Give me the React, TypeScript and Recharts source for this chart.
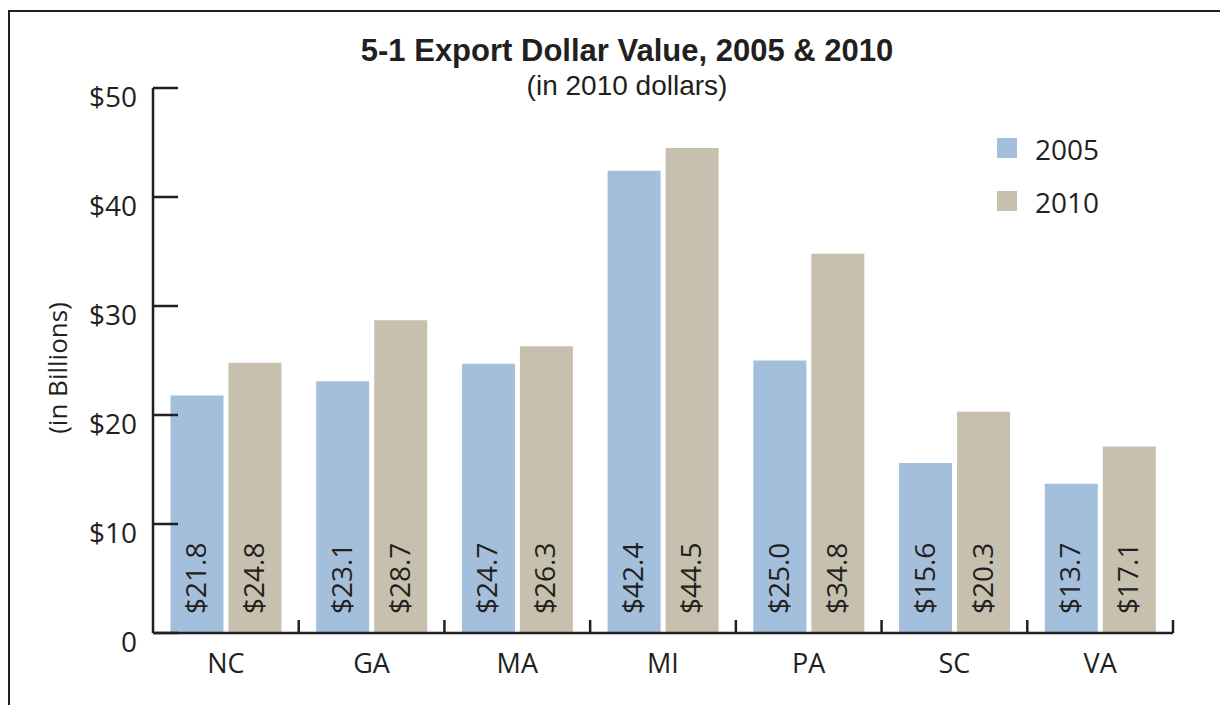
import React from 'react';
import { BarChart, Bar, XAxis, YAxis, LabelList } from 'recharts';

const states = ['NC', 'GA', 'MA', 'MI', 'PA', 'SC', 'VA'];
const exports2005 = [21.8, 23.1, 24.7, 42.4, 25.0, 15.6, 13.7];
const exports2010 = [24.8, 28.7, 26.3, 44.5, 34.8, 20.3, 17.1];
const yTicks = [0, 10, 20, 30, 40, 50];
const seriesNames = ['2005', '2010'];

const INK = '#231F20';
const BLUE = '#A3BFDC';
const TAN = '#C8C0AE';
const NUM_FONT = '"Open Sans", sans-serif';
const TITLE_FONT = '"Liberation Sans", Arial, sans-serif';

const W = 1220;
const H = 697;
const PLOT_LEFT = 145;
const PLOT_RIGHT = 1165;
const PLOT_BOTTOM = 625;
const BAND = (PLOT_RIGHT - PLOT_LEFT) / states.length;

const data = states.map((s, i) => ({ state: s, y2005: exports2005[i], y2010: exports2010[i] }));

const YTick = (props: any) => {
  const { x, y, payload } = props;
  const v = payload.value;
  return (
    <g>
      <line x1={x} x2={x + 25} y1={y} y2={y} stroke={INK} strokeWidth={2.5} />
      <text x={x - 16} y={y + 8} textAnchor="end" dominantBaseline="central"
        fontFamily={NUM_FONT} fontSize={28} fill={INK}>
        {v === 0 ? '0' : `$${v}`}
      </text>
    </g>
  );
};

const XTick = (props: any) => {
  const { x, y, payload } = props;
  const edge = x + BAND / 2;
  return (
    <g>
      <line x1={edge} x2={edge} y1={y} y2={y - 13} stroke={INK} strokeWidth={2.5} />
      <text x={x} y={y + 29} textAnchor="middle" dominantBaseline="central"
        fontFamily={NUM_FONT} fontSize={27} fill={INK}>
        {payload.value}
      </text>
    </g>
  );
};

const BarValue = (props: any) => {
  const { x, y, width, height, value } = props;
  const cx = x + width / 2 - 2;
  const by = y + height - 19;
  return (
    <text x={cx} y={by} transform={`rotate(-90 ${cx} ${by})`} textAnchor="start"
      dominantBaseline="central" fontFamily={NUM_FONT} fontSize={28} fill={INK}>
      {`$${Number(value).toFixed(1)}`}
    </text>
  );
};

export default function App() {
  return (
    <div style={{ position: 'relative', width: W, height: H, overflow: 'hidden', background: '#fff' }}>
      <div style={{
        position: 'absolute', left: 0, top: 2, width: W + 100, height: H + 100,
        borderLeft: `2.5px solid ${INK}`, borderTop: `2.5px solid ${INK}`, boxSizing: 'border-box',
      }} />
      <BarChart width={W} height={H} data={data}
        margin={{ top: 80, right: W - PLOT_RIGHT, left: 0, bottom: 0 }}
        barCategoryGap="12%" barGap={5}>
        <XAxis dataKey="state" height={H - PLOT_BOTTOM} axisLine={{ stroke: INK, strokeWidth: 2.5 }}
          tickLine={false} tickSize={0} tickMargin={0} tick={<XTick />} interval={0} />
        <YAxis width={PLOT_LEFT} domain={[0, 50]} ticks={yTicks} axisLine={{ stroke: INK, strokeWidth: 2.5 }}
          tickLine={false} tickSize={0} tickMargin={0} tick={<YTick />} interval={0} />
        <Bar dataKey="y2005" name="2005" fill={BLUE} isAnimationActive={false}>
          <LabelList dataKey="y2005" content={<BarValue />} />
        </Bar>
        <Bar dataKey="y2010" name="2010" fill={TAN} isAnimationActive={false}>
          <LabelList dataKey="y2010" content={<BarValue />} />
        </Bar>
      </BarChart>
      <svg width={W} height={H} style={{ position: 'absolute', left: 0, top: 0, pointerEvents: 'none' }}>
        <text x={619} y={53} textAnchor="middle" fontFamily={TITLE_FONT} fontWeight={700}
          fontSize={31} fill={INK}>5-1 Export Dollar Value, 2005 &amp; 2010</text>
        <text x={619} y={87} textAnchor="middle" fontFamily={TITLE_FONT}
          fontSize={28} fill={INK}>(in 2010 dollars)</text>
        <text x={49} y={360} transform="rotate(-90 49 360)" textAnchor="middle" dominantBaseline="central"
          fontFamily={NUM_FONT} fontSize={26} fill={INK}>(in Billions)</text>
        {seriesNames.map((name, i) => (
          <g key={name}>
            <rect x={989} y={130 + i * 53} width={20} height={20} fill={i === 0 ? BLUE : TAN} />
            <text x={1027} y={141 + i * 53} dominantBaseline="central" fontFamily={NUM_FONT}
              fontSize={28} fill={INK}>{name}</text>
          </g>
        ))}
      </svg>
    </div>
  );
}
